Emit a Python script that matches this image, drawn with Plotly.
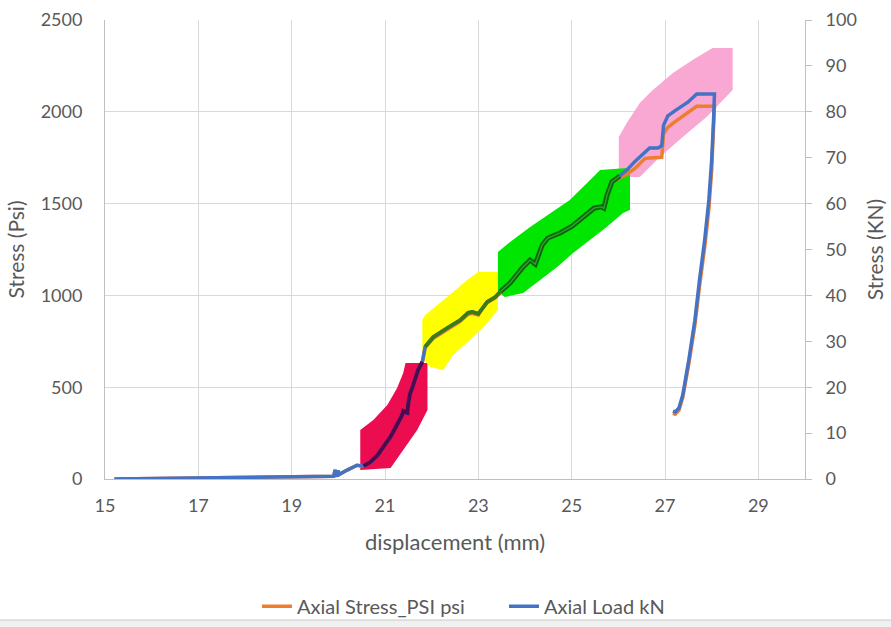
import plotly.graph_objects as go

# ---------------- data ----------------
disp_mm = [
    15.2, 15.6, 16.0, 16.5, 17.0, 17.5, 18.0, 18.5, 19.0, 19.5, 19.9,
    19.93, 19.96, 19.99, 20.02, 20.2, 20.4,
    20.54, 20.69, 20.84, 20.97, 21.12, 21.22, 21.29, 21.37, 21.39, 21.48, 21.50, 21.54, 21.59, 21.65, 21.71, 21.80,
    21.86, 22.03, 22.33, 22.61, 22.78, 22.87, 23.00, 23.08, 23.19, 23.36, 23.47,
    23.68, 23.96, 24.11, 24.22, 24.28, 24.37, 24.49, 24.75, 25.01, 25.28, 25.48, 25.63, 25.69, 25.76, 25.86, 26.03, 26.18,
    26.35, 26.57, 26.67, 26.85, 26.93, 26.97, 27.06, 27.21, 27.49, 27.68, 28.06,
    28.04, 28.00, 27.94, 27.85, 27.74, 27.64, 27.51, 27.38, 27.30, 27.22, 27.17,
]

axial_stress_psi = [
    0, 1, 2, 3, 4, 6, 7, 9, 11, 13, 15,
    50, 12, 45, 25, 50, 75,
    70, 93, 130, 175, 230, 278, 310, 350, 370, 360, 415, 468, 500, 555, 595, 637,
    715, 765, 815, 858, 897, 903, 893, 925, 960, 987, 1015,
    1065, 1152, 1190, 1168, 1212, 1272, 1310, 1338, 1375, 1430, 1472, 1480, 1473, 1542, 1610, 1640, 1660,
    1690, 1745, 1749, 1749, 1752, 1880, 1915, 1945, 1995, 2030, 2030,
    1892, 1682, 1471, 1261, 1050, 837, 627, 443, 375, 353, 358,
]

axial_load_kN = [
    0, 0.04, 0.08, 0.12, 0.16, 0.24, 0.28, 0.36, 0.44, 0.52, 0.6,
    2.0, 0.5, 1.8, 1.0, 2.0, 3.0,
    2.8, 3.7, 5.2, 7.0, 9.2, 11.1, 12.4, 14.0, 14.8, 14.4, 16.6, 18.7, 20.0, 22.2, 23.8, 25.5,
    28.8, 30.9, 32.9, 34.6, 36.2, 36.4, 36.0, 37.2, 38.6, 39.6, 40.8,
    42.7, 46.2, 47.7, 46.8, 48.6, 51.0, 52.5, 53.6, 55.1, 57.3, 59.0, 59.3, 59.0, 61.9, 64.7, 66.0, 67.3,
    69.1, 71.2, 72.1, 72.1, 72.6, 77.1, 79.1, 80.2, 82.1, 83.9, 83.9,
    78.2, 69.5, 60.8, 52.1, 43.4, 34.6, 25.9, 18.3, 15.5, 14.6, 14.8,
]

# hand-drawn highlight zones (displacement mm, stress psi)
red_zone_x = [21.44, 21.91, 21.91, 21.69, 21.39, 21.12, 20.47, 20.47, 20.75, 21.05, 21.26, 21.39]
red_zone_y = [632, 632, 376, 267, 158, 60, 49, 267, 321, 403, 496, 577]

yellow_zone_x = [21.80, 21.80, 21.97, 22.25, 22.46, 22.76, 23.10, 23.42, 23.42, 23.00, 22.76, 22.46, 22.12, 21.86]
yellow_zone_y = [866, 659, 610, 594, 675, 746, 822, 921, 1128, 1128, 1084, 1019, 948, 893]

green_zone_x = [25.61, 26.18, 26.25, 26.25, 26.10, 25.75, 25.39, 25.03, 24.69, 24.32, 23.96, 23.57, 23.42, 23.42,
                23.68, 24.11, 24.54, 24.96, 25.33]
green_zone_y = [1683, 1694, 1683, 1465, 1449, 1373, 1302, 1231, 1155, 1084, 1013, 991, 1019, 1237,
                1291, 1373, 1449, 1520, 1612]

pink_zone_x = [26.01, 26.01, 26.46, 26.89, 27.38, 27.89, 28.45, 28.45, 28.02, 27.59, 27.17, 26.74, 26.46, 26.18]
pink_zone_y = [1863, 1645, 1645, 1754, 1863, 1972, 2119, 2348, 2348, 2282, 2211, 2119, 2048, 1939]

x_ticks = [15, 17, 19, 21, 23, 25, 27, 29]

# ---------------- styles ----------------
ORANGE = "#ED7D31"
BLUE = "#4472C4"
GRID = "#d9d9d9"
AXIS = "#bfbfbf"
TXT = "#595959"
FONT = "Lato"

fig = go.Figure()

# highlight fills
for zx, zy, col in [
    (pink_zone_x, pink_zone_y, "#f8a8d2"),
    (red_zone_x, red_zone_y, "#ec0c50"),
    (yellow_zone_x, yellow_zone_y, "#ffff00"),
    (green_zone_x, green_zone_y, "#00e600"),
]:
    fig.add_trace(go.Scatter(x=zx + zx[:1], y=zy + zy[:1], mode="lines", fill="toself",
                             fillcolor=col, line=dict(width=0, color=col),
                             showlegend=False, hoverinfo="skip", yaxis="y"))

# main series
fig.add_trace(go.Scatter(x=disp_mm, y=axial_stress_psi, mode="lines", name="Axial Stress_PSI psi",
                         line=dict(color=ORANGE, width=3.5), yaxis="y"))
fig.add_trace(go.Scatter(x=disp_mm, y=axial_load_kN, mode="lines", name="Axial Load kN",
                         line=dict(color=BLUE, width=3.5), yaxis="y2"))


# blended (highlighter over line) segments
def seg(lo, hi):
    pts = [(x, v) for x, v in zip(disp_mm, axial_load_kN) if lo <= x <= hi]
    return [p[0] for p in pts], [p[1] for p in pts]


for lo, hi, col, w in [
    (20.50, 21.80, "#4a0b52", 4.0),
    (21.86, 23.47, "#3f7a12", 3.8),
    (23.47, 26.05, "#0a680a", 5.0),
]:
    sx, sy = seg(lo, hi)
    fig.add_trace(go.Scatter(x=sx, y=sy, mode="lines", line=dict(color=col, width=w),
                             showlegend=False, hoverinfo="skip", yaxis="y2"))
sx, sy = seg(23.47, 26.05)
fig.add_trace(go.Scatter(x=sx, y=sy, mode="lines", line=dict(color="#33a033", width=1.3),
                         showlegend=False, hoverinfo="skip", yaxis="y2"))

fig.update_layout(
    width=891, height=627,
    margin=dict(l=105, r=86, t=20, b=148, autoexpand=False),
    paper_bgcolor="white", plot_bgcolor="white",
    font=dict(family=FONT, color=TXT, size=18),
    legend=dict(orientation="h", x=0.57, xanchor="center", y=-0.277, yanchor="middle",
                bgcolor="rgba(0,0,0,0)", entrywidth=202, entrywidthmode="pixels",
                font=dict(family=FONT, size=20, color=TXT), traceorder="normal"),
    xaxis=dict(range=[15, 30], tickvals=x_ticks, showgrid=True, gridcolor=GRID, gridwidth=1,
               showline=True, linecolor=AXIS, zeroline=False, ticks="", ticklabelstandoff=10,
               tickfont=dict(size=18, color=TXT),
               title=dict(text="displacement (mm)", font=dict(size=22, color=TXT), standoff=20)),
    yaxis=dict(range=[0, 2500], dtick=500, showgrid=True, gridcolor=GRID, gridwidth=1,
               showline=True, linecolor=AXIS, zeroline=False, ticks="", ticklabelstandoff=18,
               tickfont=dict(size=18, color=TXT),
               title=dict(text="Stress (Psi)", font=dict(size=21, color=TXT), standoff=10)),
    yaxis2=dict(range=[0, 100], dtick=10, overlaying="y", side="right", showgrid=False,
                showline=True, linecolor=AXIS, zeroline=False, ticks="outside", ticklen=6,
                tickcolor=AXIS, ticklabelstandoff=10, tickfont=dict(size=18, color=TXT),
                title=dict(text="Stress (KN)", font=dict(size=21, color=TXT), standoff=12)),
    shapes=[
        dict(type="rect", xref="paper", yref="paper", x0=-0.3, x1=1.3, y0=-0.3072, y1=-0.35,
             fillcolor="#f0f0f0", line=dict(color="#c8c8c8", width=1), layer="above"),
    ],
)

fig.write_html("out.html")
